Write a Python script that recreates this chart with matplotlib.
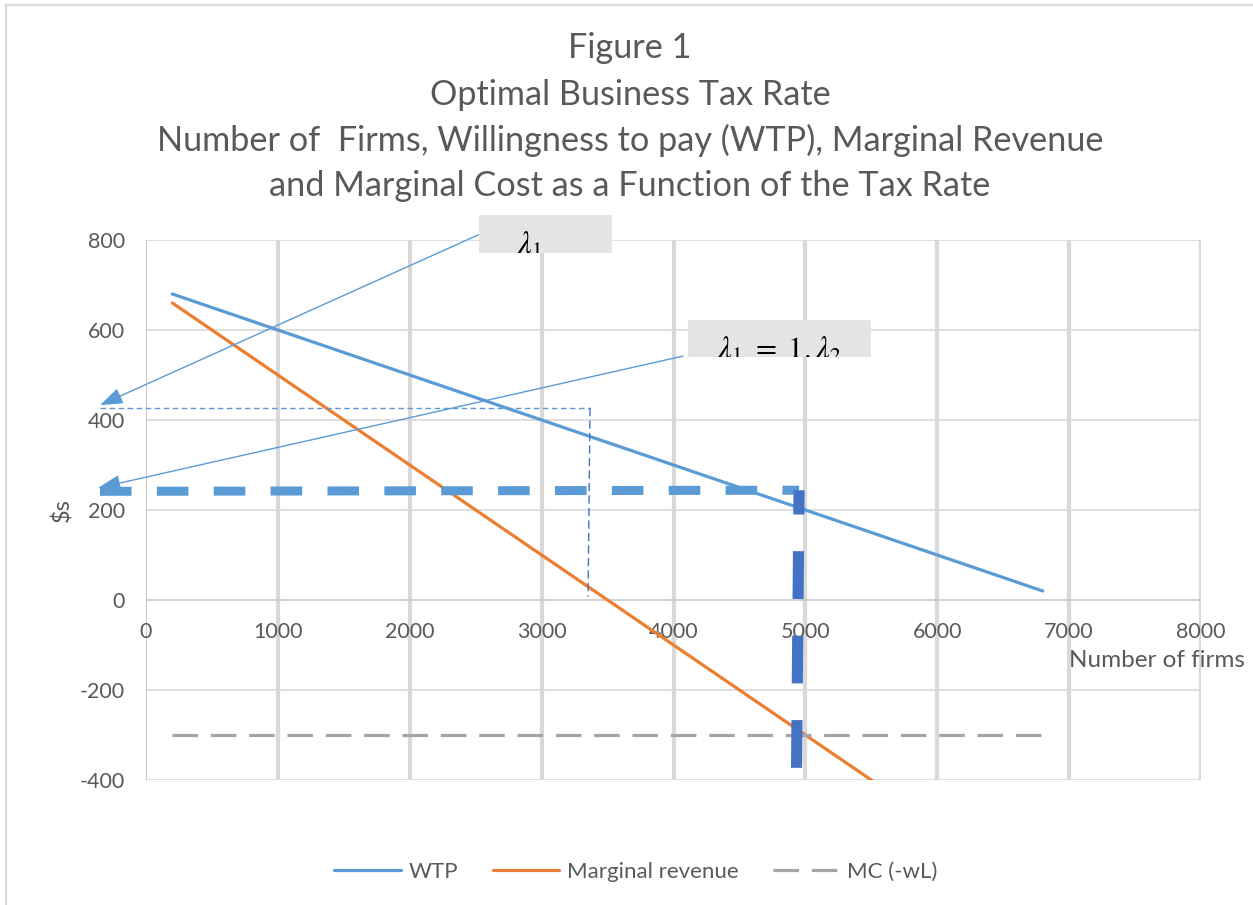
import matplotlib
matplotlib.use("Agg")
import matplotlib.pyplot as plt
from matplotlib.patches import Rectangle
from matplotlib.lines import Line2D

# ---------------- data ----------------
firms = [200, 6800]
wtp = [680, 20]
marginal_revenue = [660, -660]
mc = [-300, -300]

x_ticks = [0, 1000, 2000, 3000, 4000, 5000, 6000, 7000, 8000]
y_ticks = [-400, -200, 0, 200, 400, 600, 800]

title_lines = ["Figure 1",
               "Optimal Business Tax Rate",
               "Number of  Firms, Willingness to pay (WTP), Marginal Revenue",
               "and Marginal Cost as a Function of the Tax Rate"]

# annotation shapes (data coordinates)
thick_h_x = [-349, 4952]
thick_h_y = [241.5, 244]
thick_v_x = [4933, 4952]
thick_v_y = [-373, 244]
thin_h_x = [-349, 3367]
thin_h_y = [427, 427]
thin_v_x = [3367, 3352]
thin_v_y = [427, 7]
arrow1_from = (2570, 818)
arrow1_to = (-349, 433)
arrow2_from = (4072, 542)
arrow2_to = (-364, 249)
box1 = (2525, 771, 1009, 85)   # x, y, width, height
box2 = (4110, 540, 1388, 82)
box1_text = r"$\lambda_1$"
box2_text = r"$\lambda_1\ =\ 1.\lambda_2$"
box1_text_pos = (2813, 769)
box2_text_pos = (4330, 536)

# ---------------- style ----------------
plt.rcParams['font.family'] = ['Lato', 'DejaVu Sans']
plt.rcParams['mathtext.fontset'] = 'stix'
TXT = '#595959'
BLUE = '#5b9bd5'
DBLUE = '#4472c4'
ORANGE = '#ed7d31'
GRAY = '#a5a5a5'
GRID = '#d9d9d9'

W, H = 1253, 905
fig = plt.figure(figsize=(W / 100, H / 100), dpi=100)
ax = fig.add_axes([146 / W, 1 - 780 / H, (1201 - 146) / W, (780 - 240) / H])
ax.set_xlim(0, 8000)
ax.set_ylim(-400, 800)

for s in ax.spines.values():
    s.set_visible(False)

# gridlines
for xv in x_ticks[1:]:
    ax.axvline(xv, color=GRID, lw=3, zorder=0)
ax.axvline(0, color='#bfbfbf', lw=1.2, zorder=1)
for yv in y_ticks:
    ax.axhline(yv, color=GRID if yv != 0 else '#c8c8c8', lw=1.2, zorder=0)

ax.set_xticks(x_ticks)
ax.set_xticklabels([str(v) for v in x_ticks])
ax.set_yticks(y_ticks)
ax.set_yticklabels([str(v) for v in y_ticks])
ax.tick_params(axis='both', length=0, labelcolor=TXT, labelsize=15.5)
ax.tick_params(axis='y', pad=15)
# x tick labels below the zero line
ax.xaxis.set_ticks_position('bottom')
ax.spines['bottom'].set_position(('data', 0))
ax.tick_params(axis='x', pad=16)

# series
l1, = ax.plot(firms, wtp, color=BLUE, lw=2.3, label='WTP', solid_capstyle='round')
l2, = ax.plot(firms, marginal_revenue, color=ORANGE, lw=2.3, label='Marginal revenue',
              solid_capstyle='round')
l3, = ax.plot(firms, mc, color=GRAY, lw=2.3, dashes=(8, 4), label='MC (-wL)')

# thick dashed annotation lines
ax.plot(thick_h_x, thick_h_y, color=BLUE, lw=6.5, dashes=(3.5, 2.8),
        solid_capstyle='butt', dash_capstyle='butt', clip_on=False, zorder=4)
ax.plot(thick_v_x, thick_v_y, color=DBLUE, lw=8, dashes=(4.3, 3.3),
        dash_capstyle='butt', clip_on=False, zorder=4)
# thin dashed
ax.plot(thin_h_x, thin_h_y, color=BLUE, lw=1.0, dashes=(4, 2.5), clip_on=False, zorder=4)
ax.plot(thin_v_x, thin_v_y, color=DBLUE, lw=1.0, dashes=(6, 3), clip_on=False, zorder=4)

# arrows
for a_from, a_to in [(arrow1_from, arrow1_to), (arrow2_from, arrow2_to)]:
    ax.annotate('', xy=a_to, xytext=a_from, annotation_clip=False,
                arrowprops=dict(arrowstyle='-|>,head_length=0.7,head_width=0.25',
                                mutation_scale=20, color=BLUE, lw=1.0,
                                shrinkA=0, shrinkB=0), zorder=5)

# boxes with clipped text
for b, t, pos in [(box1, box1_text, box1_text_pos), (box2, box2_text, box2_text_pos)]:
    r = Rectangle((b[0], b[1]), b[2], b[3], facecolor='#e5e5e5', edgecolor='none',
                  clip_on=False, zorder=6)
    ax.add_patch(r)
    tx = ax.text(pos[0], pos[1], t, fontsize=22, color='black', ha='left',
                 va='baseline', zorder=7, clip_on=True)
    tx.set_clip_path(r)

# titles
ys = [48, 95, 140, 186]
for line, yp in zip(title_lines, ys):
    fig.text(630 / W, 1 - yp / H, line, ha='center', va='center', fontsize=24.7, color=TXT)

# axis labels
fig.text(62 / W, 1 - 510 / H, r"\$s", rotation=90, ha='center', va='center',
         fontsize=17, color=TXT)
fig.text(1157 / W, 1 - 660 / H, "Number of firms", ha='center', va='center',
         fontsize=17.5, color=TXT)

# legend
fig.legend(handles=[l1, l2, l3], loc='center', bbox_to_anchor=(636 / W, 1 - 872 / H),
           ncol=3, frameon=False, fontsize=16, labelcolor=TXT, handlelength=3.0,
           columnspacing=1.55, handletextpad=0.35)

# chart border
fig.add_artist(Line2D([6 / W, 6 / W], [0, 1 - 5 / H], color=GRID, lw=1.6,
                      transform=fig.transFigure))
fig.add_artist(Line2D([6 / W, 1], [1 - 5 / H, 1 - 5 / H], color=GRID, lw=1.6,
                      transform=fig.transFigure))

fig.savefig('out.png', dpi=100)
